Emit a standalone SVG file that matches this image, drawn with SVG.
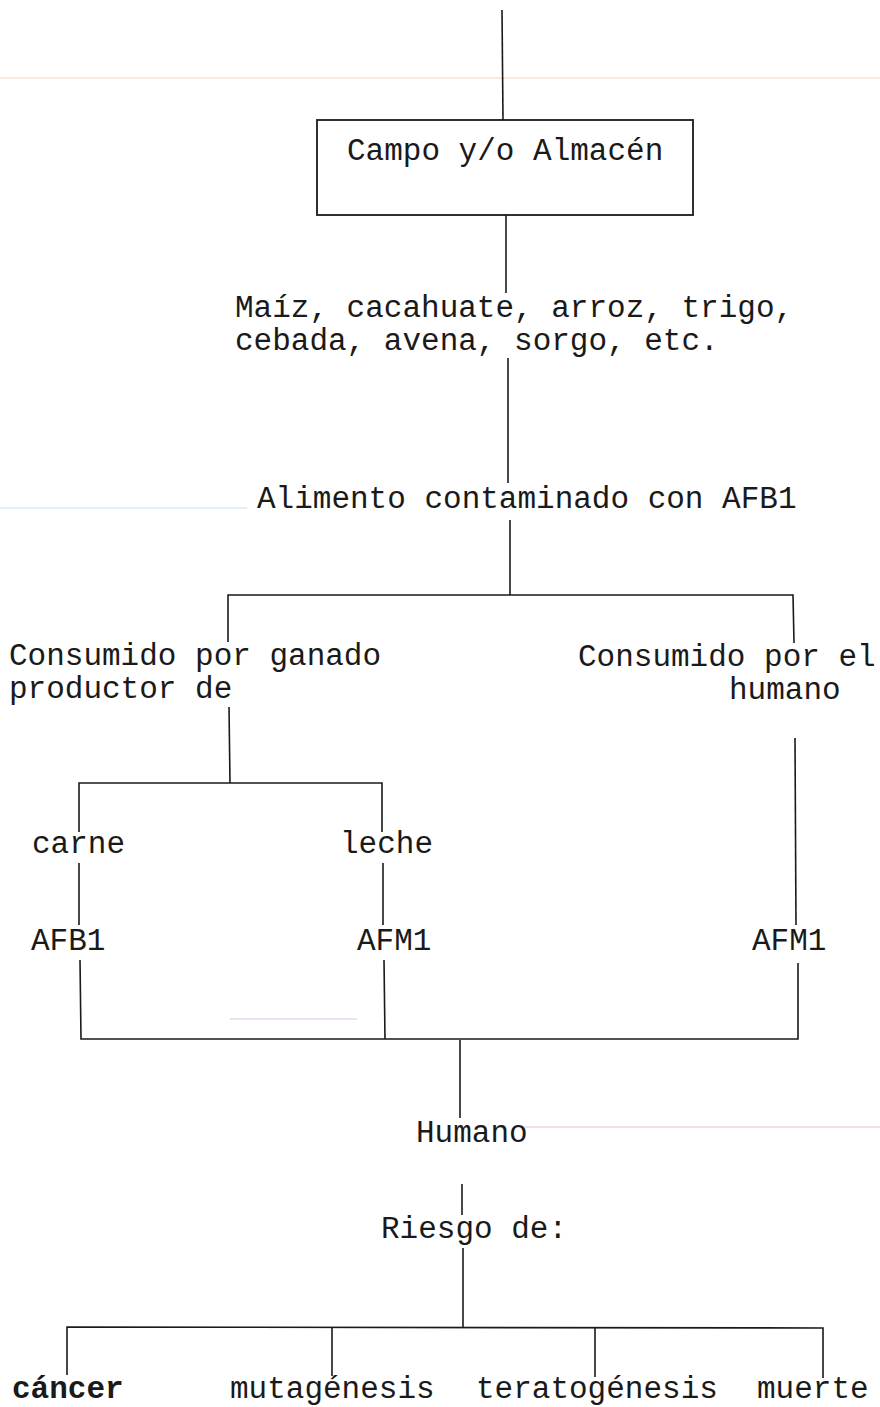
<svg xmlns="http://www.w3.org/2000/svg" width="880" height="1407" viewBox="0 0 880 1407">
<style>
.t{font-family:"Liberation Mono","DejaVu Sans Mono",monospace;font-size:31px;fill:#1a1a1a}
.b{font-weight:bold}
.c{stroke:#1a1a1a;stroke-width:1.6;fill:none}
.box{stroke:#1a1a1a;stroke-width:1.8;fill:#fff}
.art{stroke-width:1.5;fill:none}
</style>
<rect width="880" height="1407" fill="#fff"/>
<g id="artifacts">
<line class="art" x1="0" y1="78" x2="880" y2="78" stroke="#f6e3d6"/>
<line class="art" x1="0" y1="508" x2="247" y2="508" stroke="#d6eef4"/>
<line class="art" x1="230" y1="1019" x2="357" y2="1019" stroke="#ead4f0"/>
<line class="art" x1="525" y1="1127" x2="880" y2="1127" stroke="#f2d4dc"/>
</g>
<g id="connectors">
<line class="c" x1="502" y1="10" x2="503" y2="120"/>
<line class="c" x1="506" y1="215" x2="506" y2="293"/>
<line class="c" x1="508" y1="358" x2="508" y2="483"/>
<line class="c" x1="510" y1="520" x2="510" y2="595"/>
<polyline class="c" points="228,642 228,595 793,595 794,643"/>
<line class="c" x1="229" y1="707" x2="230" y2="783"/>
<polyline class="c" points="79,832 79,783 382,783 382,832"/>
<line class="c" x1="795" y1="738" x2="796" y2="925"/>
<line class="c" x1="79" y1="863" x2="79" y2="925"/>
<line class="c" x1="383" y1="863" x2="383" y2="925"/>
<polyline class="c" points="80,960 81,1039 798,1039 798,963"/>
<line class="c" x1="384" y1="960" x2="385" y2="1039"/>
<line class="c" x1="460" y1="1040" x2="460" y2="1118"/>
<line class="c" x1="462" y1="1184" x2="462" y2="1215"/>
<line class="c" x1="463" y1="1248" x2="463" y2="1327"/>
<polyline class="c" points="67,1375 67,1327 823,1328 823,1378"/>
<line class="c" x1="332" y1="1327" x2="332" y2="1376"/>
<line class="c" x1="595" y1="1328" x2="595" y2="1377"/>
</g>
<g id="n-campo">
<rect class="box" x="317" y="120" width="376" height="95"/>
<text class="t" x="347" y="160">Campo y/o Almacén</text>
</g>
<g id="n-granos">
<text class="t" x="235" y="317">Maíz, cacahuate, arroz, trigo,</text>
<text class="t" x="235" y="350">cebada, avena, sorgo, etc.</text>
</g>
<g id="n-alimento">
<text class="t" x="257" y="508">Alimento contaminado con AFB1</text>
</g>
<g id="n-ganado">
<text class="t" x="9" y="665">Consumido por ganado</text>
<text class="t" x="9" y="698">productor de</text>
</g>
<g id="n-humano-consumo">
<text class="t" x="578" y="666">Consumido por el</text>
<text class="t" x="729" y="699">humano</text>
</g>
<g id="n-carne"><text class="t" x="32" y="853">carne</text></g>
<g id="n-leche"><text class="t" x="340" y="853">leche</text></g>
<g id="n-afb1"><text class="t" x="31" y="950">AFB1</text></g>
<g id="n-afm1-a"><text class="t" x="357" y="950">AFM1</text></g>
<g id="n-afm1-b"><text class="t" x="752" y="950">AFM1</text></g>
<g id="n-humano"><text class="t" x="416" y="1142">Humano</text></g>
<g id="n-riesgo"><text class="t" x="381" y="1238">Riesgo de:</text></g>
<g id="n-cancer"><text class="t b" x="12" y="1398">cáncer</text></g>
<g id="n-mutagenesis"><text class="t" x="230" y="1398">mutagénesis</text></g>
<g id="n-teratogenesis"><text class="t" x="476" y="1398">teratogénesis</text></g>
<g id="n-muerte"><text class="t" x="757" y="1398">muerte</text></g>
</svg>
